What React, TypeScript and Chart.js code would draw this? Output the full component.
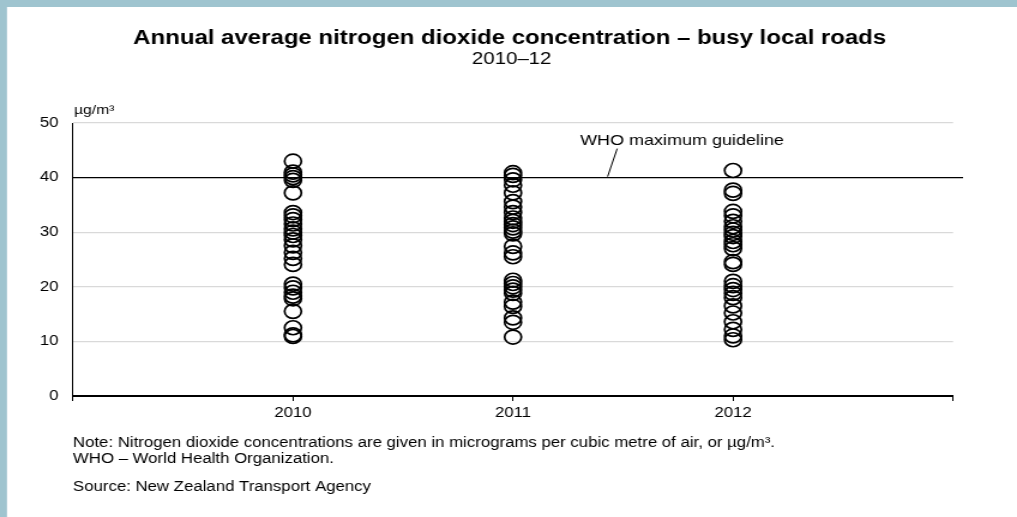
import { useEffect, useRef } from 'react';
import { Chart, registerables } from 'chart.js';

Chart.register(...registerables);

const YEARS = [2010, 2011, 2012];
const VALUES_2010 = [43, 41, 40.5, 40, 39.5, 37.2, 33.6, 33, 32.3, 31.5, 30.6, 30, 29.4, 28.6, 27.5, 26.3, 25.2, 24.1, 20.5, 19.8, 19, 18.3, 17.8, 15.5, 12.5, 11.2, 10.9];
const VALUES_2011 = [40.9, 40.4, 39.6, 38.6, 37.2, 35.6, 34.6, 33.6, 32.6, 32, 31.4, 30.8, 30.2, 29.7, 27.4, 26.2, 25.5, 21.2, 20.6, 20, 19.4, 18.8, 17.2, 16.4, 14.3, 13.5, 10.8];
const VALUES_2012 = [41.3, 37.7, 37.1, 33.8, 33, 32, 31, 30.4, 29.8, 29.2, 28.3, 27.7, 27, 24.6, 24.1, 21, 20.2, 19.5, 18.8, 18, 16.5, 15.2, 13.6, 12.2, 11, 10.3];
const SERIES = [VALUES_2010, VALUES_2011, VALUES_2012];
const X_RANGE = [2009, 2013];
const Y_RANGE = [0, 50];
const Y_STEP = 10;
const WHO_GUIDELINE = 40;
const WHO_LABEL = 'WHO maximum guideline';
const TITLE = 'Annual average nitrogen dioxide concentration \u2013 busy local roads';
const SUBTITLE = '2010\u201312';
const UNIT = '\u00b5g/m\u00b3';
const NOTE_LINES = [
  'Note: Nitrogen dioxide concentrations are given in micrograms per cubic metre of air, or \u00b5g/m\u00b3.',
  'WHO \u2013 World Health Organization.',
];
const SOURCE = 'Source: New Zealand Transport Agency';

const FONT = '"Liberation Sans", Arial, sans-serif';
// The picture is drawn on a narrower canvas and stretched horizontally to the page width.
const PAGE_W = 1017;
const PAGE_H = 517;
const STRETCH = 1.2;
const CANVAS_W = Math.round(PAGE_W / STRETCH);

export default function App() {
  const ref = useRef<HTMLCanvasElement>(null);

  useEffect(() => {
    document.body.style.margin = '0';
    const canvas = ref.current;
    if (!canvas) return;

    const decor = {
      id: 'decor',
      beforeDraw(chart: any) {
        const { ctx, width, height } = chart;
        ctx.save();
        ctx.fillStyle = '#9fc4cf';
        ctx.fillRect(0, 0, width, height);
        ctx.fillStyle = '#ffffff';
        ctx.fillRect(7 / STRETCH, 7, width, height);
        ctx.restore();
      },
      beforeDatasetsDraw(chart: any) {
        const { ctx, chartArea, scales } = chart;
        const y = scales.y.getPixelForValue(WHO_GUIDELINE);
        ctx.save();
        ctx.strokeStyle = '#000';
        ctx.lineWidth = 1.4;
        ctx.beginPath();
        ctx.moveTo(chartArea.left, y);
        ctx.lineTo(chartArea.right + 10 / STRETCH, y);
        ctx.stroke();
        const lx = scales.x.getPixelForValue(2011.43);
        ctx.lineWidth = 1;
        ctx.beginPath();
        ctx.moveTo(lx, y - 1);
        ctx.lineTo(lx + 8, y - 29);
        ctx.stroke();
        ctx.fillStyle = '#000';
        ctx.font = `15px ${FONT}`;
        ctx.textAlign = 'left';
        ctx.textBaseline = 'middle';
        ctx.fillText(WHO_LABEL, lx - 23, y - 37);
        ctx.restore();
      },
      afterDraw(chart: any) {
        const { ctx, chartArea } = chart;
        ctx.save();
        ctx.fillStyle = '#000';
        ctx.textBaseline = 'middle';
        ctx.textAlign = 'center';
        ctx.font = `bold 20px ${FONT}`;
        ctx.fillText(TITLE, 510 / STRETCH, 38);
        ctx.font = `17px ${FONT}`;
        ctx.fillText(SUBTITLE, 512 / STRETCH, 59);
        ctx.textAlign = 'left';
        ctx.font = `13px ${FONT}`;
        ctx.fillText(UNIT, chartArea.left + 1, chartArea.top - 13);
        ctx.font = `14px ${FONT}`;
        ctx.fillText(NOTE_LINES[0], chartArea.left, 443);
        ctx.fillText(NOTE_LINES[1], chartArea.left, 459);
        ctx.fillText(SOURCE, chartArea.left, 487);
        ctx.restore();
      },
    };

    const chart = new Chart(canvas, {
      type: 'scatter',
      data: {
        datasets: SERIES.map((vals, i) => ({
          label: String(YEARS[i]),
          data: vals.map((v) => ({ x: YEARS[i], y: v })),
          pointStyle: 'circle',
          pointRadius: 7,
          pointHoverRadius: 7,
          borderColor: '#000',
          backgroundColor: 'rgba(0,0,0,0)',
          borderWidth: 1.7,
          clip: false,
        })),
      },
      options: {
        animation: false,
        responsive: false,
        events: [],
        layout: { padding: { left: 0, top: 123, right: 64 / STRETCH, bottom: 91 } },
        plugins: { legend: { display: false }, tooltip: { enabled: false }, title: { display: false } },
        scales: {
          x: {
            type: 'linear',
            min: X_RANGE[0],
            max: X_RANGE[1],
            afterFit: (s: any) => { s.height = 30; },
            ticks: {
              stepSize: 1,
              color: '#000',
              font: { family: FONT, size: 14 },
              padding: 4,
              maxRotation: 0,
              callback: (v: any) => (YEARS.includes(Number(v)) ? String(v) : ''),
            },
            grid: { drawOnChartArea: false, drawTicks: true, tickLength: 5, color: '#000', lineWidth: 1 },
            border: { color: '#000', width: 2 },
          },
          y: {
            type: 'linear',
            min: Y_RANGE[0],
            max: Y_RANGE[1],
            afterFit: (s: any) => { s.width = 73 / STRETCH; },
            ticks: {
              stepSize: Y_STEP,
              color: '#000',
              font: { family: FONT, size: 14 },
              padding: 12,
            },
            grid: {
              color: (c: any) => (c.tick && (c.tick.value === 0 || c.tick.value === WHO_GUIDELINE) ? 'rgba(0,0,0,0)' : '#d9d9d9'),
              lineWidth: 1.2,
              drawTicks: false,
              tickLength: 0,
            },
            border: { color: '#000', width: 1 },
          },
        },
      },
      plugins: [decor],
    });

    return () => chart.destroy();
  }, []);

  return (
    <canvas
      ref={ref}
      width={CANVAS_W}
      height={PAGE_H}
      style={{ display: 'block', width: `${PAGE_W}px`, height: `${PAGE_H}px` }}
    />
  );
}
